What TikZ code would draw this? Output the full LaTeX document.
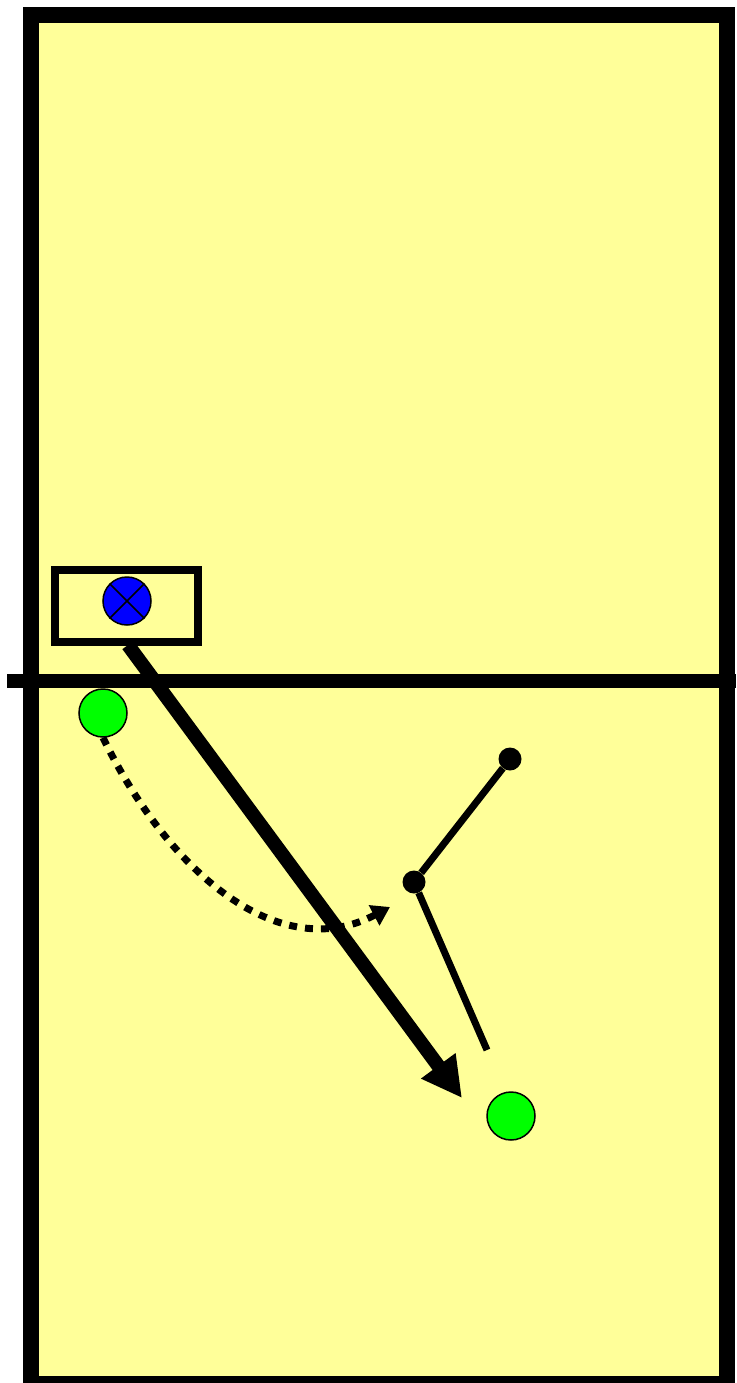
\documentclass[tikz,border=0pt]{standalone}
\usepackage{tikz}
\usetikzlibrary{arrows.meta,positioning,calc}
\definecolor{courtyellow}{RGB}{255,255,153}
\definecolor{playergreen}{RGB}{0,255,0}
\definecolor{coachblue}{RGB}{0,0,255}

\begin{document}
\begin{tikzpicture}[
  x=1pt, y=-1pt,
  player/.style={draw, circle, fill=playergreen, line width=1.5pt, minimum size=48pt, inner sep=0pt},
  coach/.style={draw, circle, fill=coachblue, line width=1.5pt, minimum size=48pt, inner sep=0pt},
  joint/.style={circle, fill=black, inner sep=0pt, minimum size=23pt},
  pass/.style={-{Triangle[length=40pt,width=40pt]}, line width=14pt},
  run/.style={-{Triangle[length=18pt,width=22pt]}, line width=7pt, dash pattern=on 8pt off 8pt},
  move/.style={line width=7pt}
]
\useasboundingbox (0,0) rectangle (736,1383);
% court
\fill[courtyellow] (30.5,15) rectangle (727,1384);
\draw[line width=16pt] (30.5,15) rectangle (727,1384);
\draw[line width=14pt] (7,680.5) -- (736,680.5);

% coach box
\node[draw, line width=8pt, fill=courtyellow, minimum width=143pt, minimum height=72pt, inner sep=0pt] (box) at (126.5,606) {};
\node[coach] (coach) at (127,601) {};
\draw[line width=1.5pt] (coach.north east) -- (coach.south west);
\draw[line width=1.5pt] (coach.north west) -- (coach.south east);

% players
\node[player] (p1) at (103,713) {};
\node[player] (p2) at (511,1116) {};

% joints
\node[joint] (j1) at (510,759) {};
\node[joint] (j2) at (414,882) {};
\coordinate (jend) at (487,1050);
\coordinate (tip) at (462,1098);
\coordinate (runend) at (390,907);

\draw[pass] (128,645) -- (tip);
\draw[run] (p1.south) .. controls (170,875) and (280,965) .. (runend);
\draw[move] (j1) -- (j2) -- (jend);
\end{tikzpicture}
\end{document}
